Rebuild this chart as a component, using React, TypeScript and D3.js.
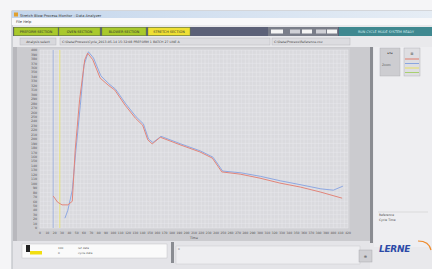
import React from 'react';
import * as d3 from 'd3';

// red trace (time in s, value)
const redTimes = [18, 24, 30, 38, 44, 48, 54, 61, 65, 72, 82, 93, 102, 116, 130, 140, 147, 153, 164, 191, 218, 235, 248, 273, 300, 327, 355, 382, 412];
const redValues = [72, 58, 52, 52, 60, 175, 288, 378, 393, 378, 337, 321, 310, 276, 247, 231, 198, 189, 204, 187, 171, 157, 126, 121, 112, 101, 92, 81, 67];
// blue trace
const blueTimes = [34, 38, 44, 49, 55, 60, 66, 73, 83, 94, 103, 117, 131, 141, 148, 154, 165, 192, 219, 236, 249, 274, 301, 328, 356, 383, 400, 413];
const blueValues = [22, 40, 85, 175, 276, 366, 396, 382, 342, 324, 312, 279, 250, 234, 200, 192, 206, 189, 173, 159, 128, 124, 116, 106, 97, 88, 85, 94];
const xTicks = d3.range(0, 421, 10);
const yTicks = d3.range(0, 401, 10);
const markerBlue = 18;
const markerYellow = 27;
const tabLabels = ['PREFORM SECTION', 'OVEN SECTION', 'BLOWER SECTION', 'STRETCH SECTION'];
const tabColors = ['#a9c92c', '#a9c92c', '#a9c92c', '#efe034'];
const legendColors = ['#e07a6a', '#8aa6de', '#e8e060', '#a8d070'];

export default function App() {
  const x = d3.scaleLinear().domain([0, 420]).range([40, 348]);
  const y = d3.scaleLinear().domain([0, 400]).range([228, 50]);
  const line = d3.line<[number, number]>().x(d => x(d[0])).y(d => y(d[1]));
  const red = redTimes.map((t, i) => [t, redValues[i]] as [number, number]);
  const blue = blueTimes.map((t, i) => [t, blueValues[i]] as [number, number]);
  const gridX = d3.range(0, 421, 5);
  const gridY = d3.range(0, 401, 10);
  const tabX = [14, 59, 102, 148];
  const tabW = [44, 41, 44, 42];
  const font = 'DejaVu Sans, sans-serif';

  return (
    <div style={{ position: 'fixed', left: 0, top: 0 }}>
      <svg width={432} height={269} style={{ display: 'block' }} fontFamily={font}>
        <defs>
          <linearGradient id="title" x1="0" x2="1">
            <stop offset="0" stopColor="#c4d6ec" />
            <stop offset="1" stopColor="#e6edf5" />
          </linearGradient>
        </defs>
        <rect width={432} height={269} fill="#f5f5f7" />
        {/* window */}
        <rect x={12} y={11} width={422} height={260} fill="#e9e9ec" stroke="#a4a8b0" strokeWidth={0.8} />
        <rect x={12} y={11} width={422} height={7} fill="url(#title)" />
        <rect x={14} y={12.5} width={4} height={4} fill="#e0a030" />
        <text x={20} y={16.5} fontSize={3.6} fill="#333">Stretch Blow Process Monitor - Data Analyzer</text>
        <rect x={12} y={18} width={422} height={7} fill="#f8f8fa" />
        <text x={16} y={23} fontSize={3.6} fill="#333">File   Help</text>

        {/* tab row */}
        <rect x={13} y={27} width={420} height={9} fill="#5c6178" />
        {tabLabels.map((t, i) => (
          <g key={t}>
            <rect x={tabX[i]} y={27.5} width={tabW[i]} height={8} fill={tabColors[i]} stroke="#6f8a20" strokeWidth={0.4} />
            <text x={tabX[i] + tabW[i] / 2} y={33} fontSize={3.4} textAnchor="middle" fill="#333">{t}</text>
          </g>
        ))}
        <rect x={268} y={27} width={70} height={9} fill="#7a7e8a" />
        <rect x={271} y={29.5} width={12} height={4} fill="#f4f4f4" />
        <rect x={290} y={29.5} width={10} height={4} fill="#cfd0d6" />
        <rect x={302} y={29.5} width={10} height={4} fill="#f4f4f4" />
        <rect x={316} y={29.5} width={10} height={4} fill="#cfd0d6" />
        <rect x={327} y={29.5} width={10} height={4} fill="#f4f4f4" />
        <rect x={339} y={27} width={94} height={9} fill="#3f8890" />
        <text x={386} y={33} fontSize={3.3} textAnchor="middle" fill="#d6eef0">RUN CYCLE MODE  SYSTEM READY</text>

        {/* second row */}
        <rect x={20} y={38} width={36} height={7} fill="#d8d8dc" stroke="#b0b0b6" strokeWidth={0.4} />
        <text x={38} y={42.8} fontSize={3.2} textAnchor="middle" fill="#444">Analysis select</text>
        <rect x={60} y={38} width={210} height={7} fill="#dcdce0" stroke="#b0b0b6" strokeWidth={0.4} />
        <text x={62} y={42.8} fontSize={3.2} fill="#444">C:\Data\Process\Cycle_2013-05-14 15:32:08 PREFORM 1 BATCH 27 LINE A</text>
        <rect x={272} y={38} width={78} height={7} fill="#dcdce0" stroke="#b0b0b6" strokeWidth={0.4} />
        <text x={274} y={42.8} fontSize={3.2} fill="#444">C:\Data\Process\Reference.csv</text>

        {/* chart panel */}
        <rect x={13} y={47} width={360} height={194} fill="#cbcbcf" />
        <rect x={13} y={47} width={4} height={194} fill="#b8b8bd" />
        <rect x={38} y={48} width={312} height={183} fill="#d0d0d4" />
        <rect x={40} y={50} width={308} height={178} fill="#dadade" />
        {gridX.map(v => (
          <line key={'gx' + v} x1={x(v)} x2={x(v)} y1={50} y2={228} stroke="#e8e8ec" strokeWidth={0.5} />
        ))}
        {gridY.map(v => (
          <line key={'gy' + v} x1={40} x2={348} y1={y(v)} y2={y(v)} stroke="#e8e8ec" strokeWidth={0.5} />
        ))}
        {yTicks.map(v => (
          <text key={'yt' + v} x={37} y={y(v) + 1.2} fontSize={3.2} textAnchor="end" fill="#555">{v}</text>
        ))}
        {xTicks.map(v => (
          <text key={'xt' + v} x={x(v)} y={234} fontSize={3} textAnchor="middle" fill="#555">{v}</text>
        ))}
        <text x={194} y={239} fontSize={3.2} textAnchor="middle" fill="#444">Time</text>
        <line x1={x(markerBlue)} x2={x(markerBlue)} y1={50} y2={228} stroke="#9ab0e0" strokeWidth={0.8} />
        <line x1={x(markerYellow)} x2={x(markerYellow)} y1={50} y2={228} stroke="#ece66a" strokeWidth={0.8} />
        <path d={line(blue) ?? ''} fill="none" stroke="#8ea8e2" strokeWidth={1} strokeLinejoin="round" />
        <path d={line(red) ?? ''} fill="none" stroke="#e2857a" strokeWidth={1} strokeLinejoin="round" />
        <rect x={370} y={47} width={3} height={196} fill="#8a8c92" />

        {/* right panel */}
        <rect x={374} y={47} width={58} height={200} fill="#eeeef1" />
        <rect x={380} y={48} width={20} height={28} fill="#cdcdd1" stroke="#a8a8ae" strokeWidth={0.4} />
        <text x={390} y={54} fontSize={3.2} textAnchor="middle" fill="#333">▸▾◂</text>
        <text x={382} y={66} fontSize={3} fill="#555">Zoom</text>
        <rect x={404} y={48} width={16} height={28} fill="#dedee2" stroke="#a8a8ae" strokeWidth={0.4} />
        <text x={412} y={55} fontSize={3.4} textAnchor="middle" fill="#333">⊞</text>
        {legendColors.map((c, i) => (
          <line key={c} x1={405} x2={419} y1={59 + i * 4.5} y2={59 + i * 4.5} stroke={c} strokeWidth={1} />
        ))}
        <line x1={378} x2={428} y1={212} y2={212} stroke="#bbb" strokeWidth={0.4} />
        <text x={379} y={216} fontSize={3} fill="#444">Reference</text>
        <text x={379} y={221} fontSize={3} fill="#444">Cycle Time</text>
        <text x={379} y={252} fontSize={9} fontWeight="bold" fontStyle="italic" fill="#2c4aa8" letterSpacing={-0.3}>LERNE</text>
        <path d="M 418 241 Q 429 241 431 250" fill="none" stroke="#ef8a2a" strokeWidth={1.2} />

        {/* bottom */}
        <rect x={13} y={241} width={357} height={28} fill="#e4e4e8" />
        <rect x={22} y={244} width={145} height={14} fill="#fafafa" stroke="#b8b8bc" strokeWidth={0.4} />
        <rect x={26} y={245} width={4} height={7} fill="#222" />
        <rect x={30} y={251} width={12} height={3.5} fill="#f2de10" />
        <text x={58} y={249} fontSize={2.8} fill="#555">100</text>
        <text x={58} y={254} fontSize={2.8} fill="#555">0</text>
        <text x={78} y={249} fontSize={2.8} fill="#555">ref data</text>
        <text x={78} y={254} fontSize={2.8} fill="#555">cycle data</text>
        <rect x={171} y={242} width={3} height={21} fill="#8a8c92" />
        <rect x={176} y={246} width={184} height={18} fill="#eeeef1" stroke="#c4c4c8" strokeWidth={0.4} />
        <text x={178} y={250} fontSize={2.8} fill="#666">0</text>
        <rect x={359} y={250} width={13} height={12} fill="#cfcfd3" stroke="#a0a0a6" strokeWidth={0.4} />
        <text x={365.5} y={258} fontSize={4} textAnchor="middle" fill="#555">⊕</text>
      </svg>
    </div>
  );
}
